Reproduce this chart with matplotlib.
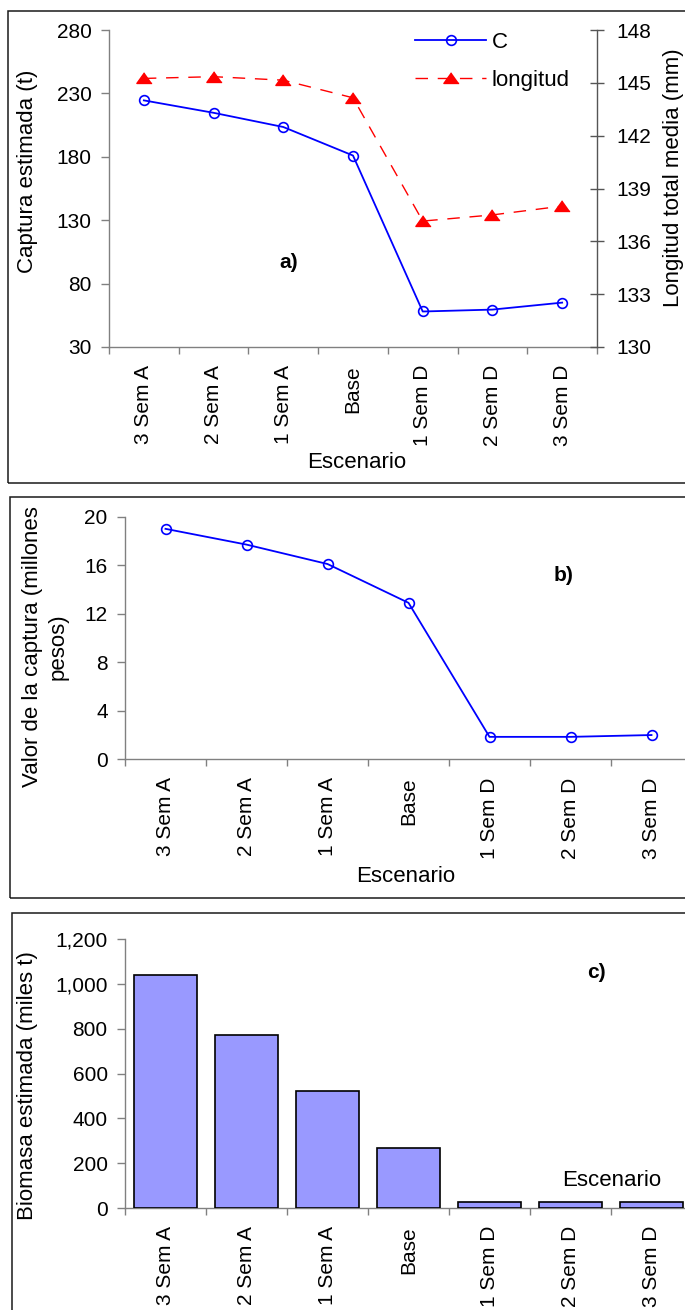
import matplotlib
matplotlib.use('Agg')
import matplotlib.pyplot as plt
import numpy as np
from matplotlib.ticker import FuncFormatter
from matplotlib.patches import Rectangle

# ---------------- data ----------------
escenarios = ['3 Sem A', '2 Sem A', '1 Sem A', 'Base', '1 Sem D', '2 Sem D', '3 Sem D']
captura = [224.5, 214.7, 203.5, 181.0, 58.0, 59.5, 65.0]          # t
longitud = [145.25, 145.35, 145.15, 144.15, 137.15, 137.5, 138.0]  # mm
valor = [19.0, 17.7, 16.1, 12.9, 1.85, 1.85, 2.0]                 # millones pesos
biomasa = [1040, 773, 520, 268, 25, 25, 25]                        # miles t

# ---------------- layout ----------------
W, H = 685, 1310
plt.rcParams['font.family'] = ['Liberation Sans', 'DejaVu Sans']
plt.rcParams['font.size'] = 15
TITLE = 16
fig = plt.figure(figsize=(W / 100, H / 100), dpi=100)

GRAY = '#808080'
BLUE = '#0000FF'
RED = '#FF0000'


def fx(x):
    return x / W


def fy(y):
    return 1 - y / H


def rect(l, t, r, b):
    return [fx(l), fy(b), fx(r) - fx(l), fy(t) - fy(b)]


def frame(l, t, r, b):
    fig.add_artist(Rectangle((fx(l), fy(b)), fx(r) - fx(l), fy(t) - fy(b),
                             transform=fig.transFigure, fill=False,
                             edgecolor='#1a1a1a', linewidth=1.1))


def style_common(ax):
    n = len(escenarios)
    x = np.arange(n)
    ax.set_xlim(-0.5, n - 0.5)
    ax.set_xticks(x)
    ax.set_xticklabels(escenarios, rotation=90)
    ax.set_xticks(np.arange(n + 1) - 0.5, minor=True)
    ax.tick_params(axis='x', which='major', length=0, pad=13, labelsize=15)
    ax.tick_params(axis='x', which='minor', length=5, width=1, color=GRAY,
                   direction='out')
    ax.tick_params(axis='y', which='major', length=5.5, width=1, color=GRAY,
                   direction='out', pad=7, labelsize=15)
    for s in ['top', 'right']:
        ax.spines[s].set_visible(False)
    for s in ['left', 'bottom']:
        ax.spines[s].set_color(GRAY)
        ax.spines[s].set_linewidth(1.0)
    ax.patch.set_alpha(0)


# ---------------- frames ----------------
frame(8, 11, 700, 482.7)
frame(9.5, 497, 700, 898)
frame(12, 913, 700, 1330)

x = np.arange(len(escenarios))

# ---------------- panel a ----------------
axa = fig.add_axes(rect(109, 30, 597, 347))
style_common(axa)
la, = axa.plot(x, captura, color=BLUE, linewidth=1.3, marker='o',
               markersize=7, markerfacecolor='none', markeredgecolor=BLUE,
               markeredgewidth=1.2, label='C')
axa.set_ylim(30, 280)
axa.set_yticks(np.arange(30, 281, 50))

axa2 = axa.twinx()
axa2.set_position(rect(109, 30, 597, 347))
tri = [(0, 0.75), (-1, -0.65), (1, -0.65)]
lb, = axa2.plot(x, longitud, color=RED, linewidth=1.0, dashes=(9, 7),
                marker=tri, markersize=11, markerfacecolor=RED,
                markeredgecolor=RED, label='longitud')
axa2.set_ylim(130, 148)
axa2.set_yticks(np.arange(130, 149, 3))
for s in ['top', 'left', 'bottom']:
    axa2.spines[s].set_visible(False)
axa2.spines['right'].set_color('#555555')
axa2.spines['right'].set_linewidth(1.0)
axa2.tick_params(axis='y', length=10, width=1, color='#555555',
                 direction='inout', pad=9, labelsize=15)
axa2.patch.set_alpha(0)

axa2.legend([la, lb], ['C', 'longitud'], loc='upper left',
            bbox_to_anchor=(fx(415), fy(32)), bbox_transform=fig.transFigure,
            frameon=False, handlelength=3.2, handletextpad=0.25,
            labelspacing=0.75, borderpad=0, borderaxespad=0, fontsize=TITLE)

fig.text(fx(28), fy(171), 'Captura estimada (t)', rotation=90,
         ha='center', va='center', fontsize=TITLE)
fig.text(fx(673), fy(178), 'Longitud total media (mm)', rotation=90,
         ha='center', va='center', fontsize=TITLE)
fig.text(fx(357), fy(463), 'Escenario', ha='center', va='center',
         fontsize=TITLE)
fig.text(fx(289), fy(263), 'a)', ha='center', va='center', fontsize=15,
         fontweight='bold')

# ---------------- panel b ----------------
axb = fig.add_axes(rect(125, 516.7, 692, 759.3))
style_common(axb)
axb.plot(x, valor, color=BLUE, linewidth=1.3, marker='o', markersize=7,
         markerfacecolor='none', markeredgecolor=BLUE, markeredgewidth=1.2)
axb.set_ylim(0, 20)
axb.set_yticks(np.arange(0, 21, 4))

fig.text(fx(45.5), fy(647), 'Valor de la captura (millones\npesos)',
         rotation=90, ha='center', va='center', fontsize=TITLE,
         multialignment='center', linespacing=1.25)
fig.text(fx(406), fy(876), 'Escenario', ha='center', va='center',
         fontsize=TITLE)
fig.text(fx(564), fy(576), 'b)', ha='center', va='center', fontsize=15,
         fontweight='bold')

# ---------------- panel c ----------------
axc = fig.add_axes(rect(125, 939, 692, 1208))
style_common(axc)
axc.bar(x, biomasa, width=0.79, color='#9999FF', edgecolor='black',
        linewidth=1.2, zorder=3)
axc.set_ylim(0, 1200)
axc.set_yticks(np.arange(0, 1201, 200))
axc.yaxis.set_major_formatter(FuncFormatter(lambda v, p: f'{int(v):,}'))

fig.text(fx(28), fy(1086), 'Biomasa estimada (miles t)', rotation=90,
         ha='center', va='center', fontsize=TITLE)
fig.text(fx(612), fy(1180), 'Escenario', ha='center', va='center',
         fontsize=TITLE)
fig.text(fx(596), fy(973), 'c)', ha='center', va='center', fontsize=15,
         fontweight='bold')

fig.savefig('out.png', dpi=100)
